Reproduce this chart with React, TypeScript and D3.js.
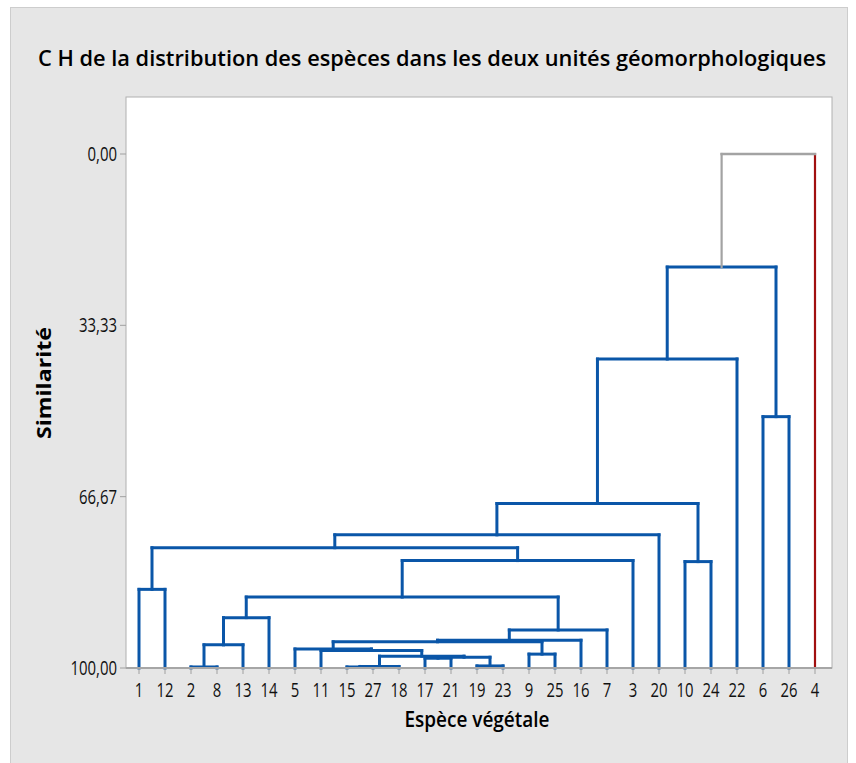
import React from "react";
import * as d3 from "d3";

// ---- Data ----
const leafOrder = [1, 12, 2, 8, 13, 14, 5, 11, 15, 27, 18, 17, 21, 19, 23, 9, 25, 16, 7, 3, 20, 10, 24, 22, 6, 26, 4];
// Amalgamation steps: positive = species id, negative = -(step number) referencing an earlier step (1-based)
const mergeLeft = [2, 15, -2, 19, 17, -5, -3, 9, 11, 5, -1, -10, -12, -13, -11, -15, 1, 10, -16, -17, -20, -21, 6, -22, -24, -25];
const mergeRight = [8, 27, 18, 23, 21, -4, -6, 25, -7, -9, 13, -8, 16, 7, 14, -14, 12, 24, 3, -19, 20, -18, 26, 22, -23, 4];
const mergeSimilarity = [99.8, 99.8, 99.7, 99.6, 98.1, 97.9, 97.7, 97.3, 96.6, 96.3, 95.5, 94.9, 94.6, 92.6, 90.2, 86.2, 84.7, 79.3, 79.1, 76.6, 74.1, 68.0, 51.1, 39.9, 22.0, 0.0];
const redGroup = [4];
const yTicks = [0, 33.33, 66.67, 100];
const yTickLabels = ["0,00", "33,33", "66,67", "100,00"];

const title = "C H de la distribution des espèces dans les deux unités géomorphologiques";
const xTitle = "Espèce végétale";
const yTitle = "Similarité";

const BLUE = "#0a56a8";
const RED = "#a10f0f";
const GRAY = "#a3a3a3";
const FONT = "'Open Sans', 'Noto Sans', sans-serif";

export default function App() {
  const W = 856, H = 763;
  const plot = { left: 126, right: 832, top: 97, bottom: 668 };

  const x = d3.scalePoint<number>().domain(leafOrder).range([139, 815]);
  const y = d3.scaleLinear().domain([0, 100]).range([154, 668]);

  const stepX: number[] = [];
  const stepS: number[] = [];
  const childX = (c: number) => (c > 0 ? (x(c) as number) : stepX[-c - 1]);
  const childS = (c: number) => (c > 0 ? 100 : stepS[-c - 1]);

  const segs: { x1: number; y1: number; x2: number; y2: number; color: string; w: number }[] = [];
  mergeLeft.forEach((l, i) => {
    const r = mergeRight[i];
    const s = mergeSimilarity[i];
    const xl = childX(l), xr = childX(r);
    stepX.push((xl + xr) / 2);
    stepS.push(s);
    const mergeColor = s < 10 ? GRAY : BLUE;
    const vColor = (c: number) => (c > 0 ? (redGroup.includes(c) ? RED : BLUE) : mergeColor);
    const ys = y(s);
    segs.push({ x1: xl, y1: ys, x2: xl, y2: y(childS(l)), color: vColor(l), w: vColor(l) === BLUE ? 3 : 2.2 });
    segs.push({ x1: xr, y1: ys, x2: xr, y2: y(childS(r)), color: vColor(r), w: vColor(r) === BLUE ? 3 : 2.2 });
    segs.push({ x1: xl, y1: ys, x2: xr, y2: ys, color: mergeColor, w: mergeColor === BLUE ? 3 : 2.4 });
  });

  const labelLen = (t: string) => t.split("").reduce((a, ch) => a + (ch === "," ? 4 : 8.5), 0);

  return (
    <svg width={W} height={H} style={{ position: "absolute", left: 0, top: 0, display: "block" }} fontFamily={FONT}>
      <rect x={0} y={0} width={W} height={H} fill="#ffffff" />
      <rect x={10.5} y={7.5} width={837} height={760} fill="#e6e6e6" stroke="#cdcdcd" strokeWidth={1} />
      <text x={432} y={66} fontSize={22} fontWeight={600} textAnchor="middle" fill="#000" textLength={788} lengthAdjust="spacingAndGlyphs">
        {title}
      </text>
      <rect x={plot.left} y={plot.top} width={plot.right - plot.left} height={plot.bottom - plot.top} fill="#ffffff" stroke="#b0b0b0" strokeWidth={1} />
      {yTicks.map((t, i) => (
        <g key={"yt" + i}>
          <line x1={plot.left - 6} x2={plot.left} y1={y(t)} y2={y(t)} stroke="#a0a0a0" strokeWidth={1} />
          <text x={117} y={y(t) + 7} fontSize={20} textAnchor="end" fill="#111" textLength={labelLen(yTickLabels[i])} lengthAdjust="spacingAndGlyphs">
            {yTickLabels[i]}
          </text>
        </g>
      ))}
      {segs.map((s, i) => (
        <line key={"s" + i} x1={s.x1} y1={s.y1} x2={s.x2} y2={s.y2} stroke={s.color} strokeWidth={s.w} strokeLinecap="square" />
      ))}
      <line x1={plot.left} x2={plot.right} y1={plot.bottom} y2={plot.bottom} stroke="#a6a6a6" strokeWidth={2} />
      {leafOrder.map((d) => (
        <g key={"xt" + d}>
          <line x1={x(d)} x2={x(d)} y1={plot.bottom} y2={plot.bottom + 6} stroke="#a0a0a0" strokeWidth={1} />
          <text x={x(d)} y={697} fontSize={20} textAnchor="middle" fill="#111" textLength={labelLen(String(d))} lengthAdjust="spacingAndGlyphs">
            {d}
          </text>
        </g>
      ))}
      <text x={477} y={727} fontSize={21} fontWeight={600} textAnchor="middle" fill="#000" textLength={145} lengthAdjust="spacingAndGlyphs">
        {xTitle}
      </text>
      <text transform="translate(51,383) rotate(-90)" fontSize={19} fontWeight={700} textAnchor="middle" fill="#000" textLength={112} lengthAdjust="spacingAndGlyphs">
        {yTitle}
      </text>
    </svg>
  );
}
